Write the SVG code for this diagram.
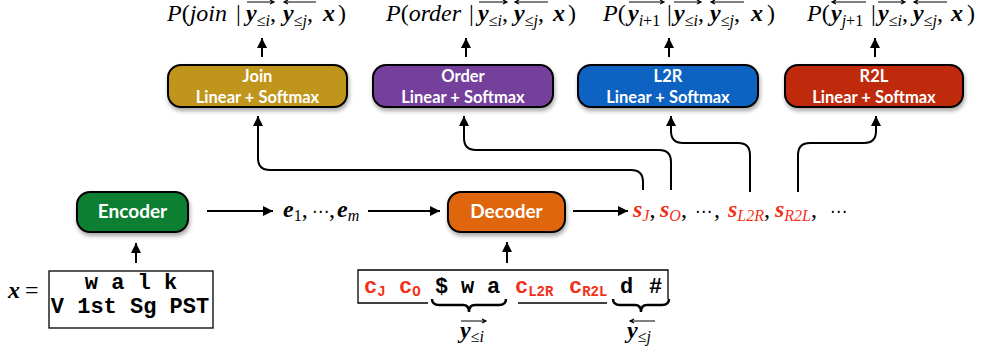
<svg xmlns="http://www.w3.org/2000/svg" width="987" height="356" viewBox="0 0 987 356">
<defs>
<style>
.box{stroke:#000;stroke-width:2;filter:url(#sh)}
.lbl{fill:#fff;font-family:Lato,"Open Sans","DejaVu Sans",sans-serif;font-weight:bold;font-size:16.5px;text-anchor:middle}
.big{font-size:19px}
.conn{fill:none;stroke:#000;stroke-width:2;marker-end:url(#ah)}
.m{font-family:"Liberation Serif","DejaVu Serif",serif;font-size:24px;fill:#000}
.it{font-style:italic}
.bi{font-style:italic;font-weight:bold}
.sb{font-size:16px}
.dots{font-family:"DejaVu Sans",sans-serif;font-size:17px}
.red{fill:#F2301A}
.mono{font-family:"Liberation Mono","DejaVu Sans Mono",monospace;font-weight:bold;font-size:22px;fill:#000}
.ms{font-size:14px}
.ov{fill:none;stroke:#000;stroke-width:1.2}
.ln{fill:none;stroke:#000;stroke-width:1.3}
.br{fill:none;stroke:#000;stroke-width:2.4}
</style>
<filter id="sh" x="-10%" y="-20%" width="130%" height="160%">
<feDropShadow dx="1" dy="3" stdDeviation="2" flood-color="#000" flood-opacity="0.35"/>
</filter>
<marker id="ah" markerUnits="userSpaceOnUse" markerWidth="10" markerHeight="10" refX="10" refY="5" orient="auto">
<path d="M0,0 L10,5 L0,10 z" fill="#000"/>
</marker>
</defs>

<!-- formulas -->
<g id="formulas">
<text class="m" y="21"><tspan x="167" class="it">P</tspan><tspan>(</tspan><tspan class="it">join</tspan><tspan x="236">|</tspan><tspan x="246" class="bi">y</tspan><tspan class="sb" y="26">≤</tspan><tspan class="sb it">i</tspan><tspan y="21">,</tspan><tspan x="283" class="bi">y</tspan><tspan class="sb" y="26">≤</tspan><tspan class="sb it">j</tspan><tspan y="21">,</tspan><tspan x="323" class="bi">x</tspan><tspan x="338">)</tspan></text>
<path class="ov" d="M247,2 H274 M270,0 L274,2 L270,4"/>
<path class="ov" d="M284,2 H316 M288,0 L284,2 L288,4"/>

<text class="m" y="21"><tspan x="386" class="it">P</tspan><tspan>(</tspan><tspan class="it">order</tspan><tspan x="469">|</tspan><tspan x="478" class="bi">y</tspan><tspan class="sb" y="26">≤</tspan><tspan class="sb it">i</tspan><tspan y="21">,</tspan><tspan x="514" class="bi">y</tspan><tspan class="sb" y="26">≤</tspan><tspan class="sb it">j</tspan><tspan y="21">,</tspan><tspan x="553" class="bi">x</tspan><tspan x="568">)</tspan></text>
<path class="ov" d="M479,2 H507 M503,0 L507,2 L503,4"/>
<path class="ov" d="M515,2 H548 M519,0 L515,2 L519,4"/>

<text class="m" y="21"><tspan x="603" class="it">P</tspan><tspan>(</tspan><tspan x="628" class="bi">y</tspan><tspan class="sb it" y="26">i</tspan><tspan class="sb">+1</tspan><tspan x="667" y="21">|</tspan><tspan x="674" class="bi">y</tspan><tspan class="sb" y="26">≤</tspan><tspan class="sb it">i</tspan><tspan y="21">,</tspan><tspan x="710" class="bi">y</tspan><tspan class="sb" y="26">≤</tspan><tspan class="sb it">j</tspan><tspan y="21">,</tspan><tspan x="751" class="bi">x</tspan><tspan x="767">)</tspan></text>
<path class="ov" d="M629,2 H664 M660,0 L664,2 L660,4"/>
<path class="ov" d="M674,2 H701 M697,0 L701,2 L697,4"/>
<path class="ov" d="M711,2 H744 M715,0 L711,2 L715,4"/>

<text class="m" y="21"><tspan x="807" class="it">P</tspan><tspan>(</tspan><tspan x="831" class="bi">y</tspan><tspan class="sb it" y="26">j</tspan><tspan class="sb">+1</tspan><tspan x="871" y="21">|</tspan><tspan x="878" class="bi">y</tspan><tspan class="sb" y="26">≤</tspan><tspan class="sb it">i</tspan><tspan y="21">,</tspan><tspan x="913" class="bi">y</tspan><tspan class="sb" y="26">≤</tspan><tspan class="sb it">j</tspan><tspan y="21">,</tspan><tspan x="951" class="bi">x</tspan><tspan x="967">)</tspan></text>
<path class="ov" d="M832,2 H866 M836,0 L832,2 L836,4"/>
<path class="ov" d="M878,2 H905 M901,0 L905,2 L901,4"/>
<path class="ov" d="M914,2 H947 M918,0 L914,2 L918,4"/>
</g>

<!-- nodes -->
<g id="join">
<rect class="box" x="168" y="65" width="179" height="42" rx="13" fill="#C0951A"/>
<text class="lbl" x="257.5" y="82">Join</text>
<text class="lbl" x="257.5" y="103">Linear + Softmax</text>
</g>
<g id="order">
<rect class="box" x="373" y="65" width="180" height="42" rx="13" fill="#75409C"/>
<text class="lbl" x="463" y="82">Order</text>
<text class="lbl" x="463" y="103">Linear + Softmax</text>
</g>
<g id="l2r">
<rect class="box" x="578" y="65" width="180" height="42" rx="13" fill="#0A62C2"/>
<text class="lbl" x="668" y="82">L2R</text>
<text class="lbl" x="668" y="103">Linear + Softmax</text>
</g>
<g id="r2l">
<rect class="box" x="785" y="65" width="178" height="42" rx="13" fill="#BF2A0E"/>
<text class="lbl" x="874" y="82">R2L</text>
<text class="lbl" x="874" y="103">Linear + Softmax</text>
</g>
<g id="encoder">
<rect class="box" x="77" y="192" width="111" height="40" rx="13" fill="#0C7F31"/>
<text class="lbl big" x="132.5" y="218">Encoder</text>
</g>
<g id="decoder">
<rect class="box" x="448" y="192" width="117" height="40" rx="13" fill="#E0660F"/>
<text class="lbl big" x="506.5" y="218">Decoder</text>
</g>

<g id="encodings">
<text class="m" y="217"><tspan x="283" class="bi">e</tspan><tspan class="sb" y="221">1</tspan><tspan y="217">,</tspan><tspan x="312" class="dots">⋯</tspan><tspan x="329">,</tspan><tspan x="337" class="bi">e</tspan><tspan class="sb it" y="221">m</tspan></text>
</g>

<g id="states">
<text class="m" y="217"><tspan x="633" class="bi red">s</tspan><tspan class="sb it red" y="221">J</tspan><tspan y="217">,</tspan><tspan x="660" class="bi red">s</tspan><tspan class="sb it red" y="221">O</tspan><tspan y="217">,</tspan><tspan x="695" class="dots">⋯</tspan><tspan x="714">,</tspan><tspan x="728" class="bi red">s</tspan><tspan class="sb it red" y="221">L2R</tspan><tspan y="217">,</tspan><tspan x="775" class="bi red">s</tspan><tspan class="sb it red" y="221">R2L</tspan><tspan y="217">,</tspan><tspan x="830" class="dots">⋯</tspan></text>
</g>

<g id="input">
<text class="m" y="298"><tspan x="8" class="bi">x</tspan><tspan x="25">=</tspan></text>
<rect x="49" y="271" width="164" height="57" fill="none" stroke="#000" stroke-width="1.3"/>
<text class="mono" x="131" y="289" text-anchor="middle">w a l k</text>
<text class="mono" x="130" y="313" text-anchor="middle">V 1st Sg PST</text>
</g>

<g id="sequence">
<path class="ln" d="M428,303 H358 V270 H668 V299 M518,303 H607"/>
<text class="mono" y="293"><tspan x="364" class="red">c</tspan><tspan class="ms red" y="296">J</tspan><tspan x="399" y="293" class="red">c</tspan><tspan class="ms red" y="296">O</tspan><tspan x="435" y="293">$</tspan><tspan x="461">w</tspan><tspan x="487">a</tspan><tspan x="515" class="red">c</tspan><tspan class="ms red" y="296">L2R</tspan><tspan x="569" y="293" class="red">c</tspan><tspan class="ms red" y="296">R2L</tspan><tspan x="620" y="293">d</tspan><tspan x="649">#</tspan></text>
<path class="br" d="M432,299 Q432,305 439,305 L463,305 Q469,305 469,312 Q469,305 475,305 L499,305 Q506,305 506,299"/>
<path class="br" d="M613,299 Q613,305 620,305 L635,305 Q641,305 641,312 Q641,305 647,305 L662,305 Q669,305 669,299"/>
<text class="m" y="338"><tspan x="460" class="bi">y</tspan><tspan class="sb" y="342">≤</tspan><tspan class="sb it">i</tspan></text>
<path class="ov" d="M461,321 H486 M482,319 L486,321 L482,323"/>
<text class="m" y="338"><tspan x="627" class="bi">y</tspan><tspan class="sb" y="342">≤</tspan><tspan class="sb it">j</tspan></text>
<path class="ov" d="M630,321 H655 M634,319 L630,321 L634,323"/>
</g>

<g id="connectors">
<path class="conn" d="M262,57 V38"/>
<path class="conn" d="M466,57 V38"/>
<path class="conn" d="M669,57 V38"/>
<path class="conn" d="M875,57 V38"/>
<path class="conn" d="M207,211 H273"/>
<path class="conn" d="M368,211 H440"/>
<path class="conn" d="M573,211 H628"/>
<path class="conn" d="M136,263 V243"/>
<path class="conn" d="M507,263 V242"/>
<path class="conn" d="M643,190 V182 Q643,170 631,170 H270 Q258,170 258,158 V116"/>
<path class="conn" d="M671,190 V162 Q671,150 659,150 H476 Q464,150 464,138 V116"/>
<path class="conn" d="M750,192 V155 Q750,143 738,143 H683 Q671,143 671,131 V116"/>
<path class="conn" d="M798,192 V155 Q798,143 810,143 H864 Q876,143 876,131 V116"/>
</g>
</svg>
